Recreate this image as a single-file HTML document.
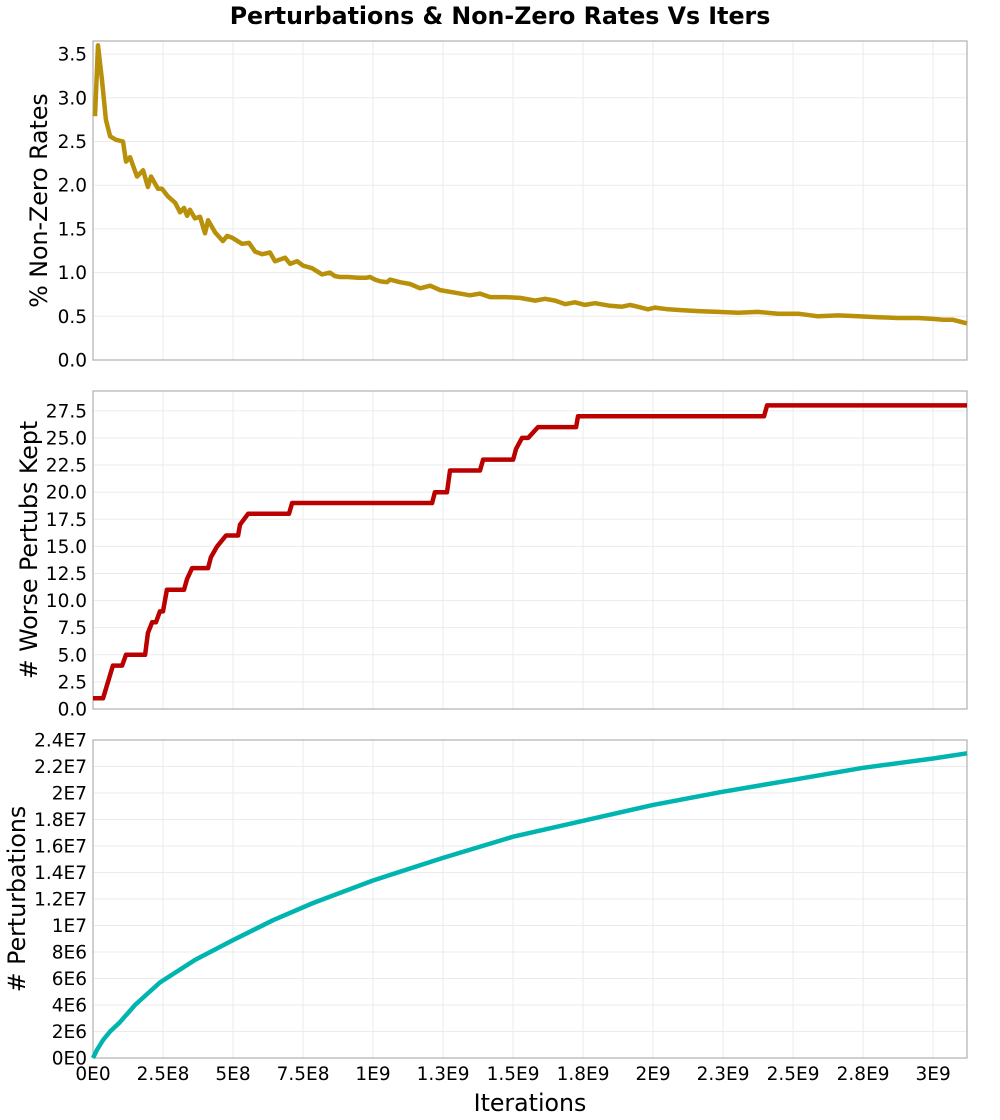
<!DOCTYPE html>
<html><head><meta charset="utf-8"><style>
body{margin:0;background:#fff;}
svg{display:block;font-family:"DejaVu Sans","Liberation Sans",sans-serif;}
</style></head><body>
<svg id="chart" width="1000" height="1120" viewBox="0 0 1000 1120" xmlns="http://www.w3.org/2000/svg">
<text x="500" y="24" text-anchor="middle" font-size="23.7" font-weight="bold">Perturbations &amp; Non-Zero Rates Vs Iters</text>
<text x="530" y="1111" text-anchor="middle" font-size="23.7">Iterations</text>
</svg>
<script>
// x values in units of 1E8 iterations
const rateX = [0.07,0.18,0.32,0.46,0.61,0.82,1.07,1.18,1.32,1.57,1.79,1.96,2.07,2.32,2.46,2.68,2.93,3.11,3.25,3.36,3.46,3.64,3.82,4.0,4.11,4.36,4.64,4.79,4.96,5.32,5.57,5.79,6.04,6.32,6.5,6.86,7.04,7.29,7.5,7.82,8.18,8.46,8.64,8.82,9.11,9.46,9.75,9.89,10.07,10.25,10.5,10.61,10.96,11.32,11.68,12.04,12.39,12.93,13.46,13.82,14.18,14.71,15.25,15.79,16.14,16.5,16.86,17.21,17.57,17.93,18.46,18.89,19.18,19.82,20.07,20.54,21.07,21.61,22.32,23.04,23.75,24.46,25.18,25.89,26.61,27.32,28.04,28.75,29.46,30.0,30.36,30.71,31.07,31.21];
const rateY = [2.79,3.6,3.2,2.75,2.56,2.52,2.5,2.27,2.32,2.1,2.17,1.98,2.1,1.96,1.96,1.87,1.8,1.69,1.74,1.65,1.72,1.62,1.64,1.45,1.6,1.46,1.36,1.42,1.4,1.33,1.34,1.24,1.21,1.23,1.13,1.17,1.1,1.13,1.08,1.05,0.98,1.0,0.96,0.95,0.95,0.94,0.94,0.95,0.92,0.9,0.89,0.92,0.89,0.87,0.82,0.85,0.8,0.77,0.74,0.76,0.72,0.72,0.71,0.68,0.7,0.68,0.64,0.66,0.63,0.65,0.62,0.61,0.63,0.58,0.6,0.58,0.57,0.56,0.55,0.54,0.55,0.53,0.53,0.5,0.51,0.5,0.49,0.48,0.48,0.47,0.46,0.46,0.43,0.42];
const keptX = [0,0.36,0.71,1.04,1.18,1.32,1.86,1.96,2.11,2.25,2.39,2.5,2.64,2.71,3.25,3.36,3.54,4.11,4.21,4.43,4.75,5.18,5.25,5.54,5.82,7.0,7.11,12.11,12.21,12.64,12.75,13.82,13.93,14.82,15.0,15.11,15.32,15.54,15.89,16.07,17.25,17.32,23.96,24.07,31.21];
const keptY = [1,1,4,4,5,5,5,7,8,8,9,9,11,11,11,12,13,13,14,15,16,16,17,18,18,18,19,19,20,20,22,22,23,23,23,24,25,25,26,26,26,27,27,28,28];
const pertX = [0,0.14,0.36,0.61,0.96,1.5,2.39,3.64,5.0,6.43,7.86,10.0,12.5,15.0,17.5,20.0,22.5,25.0,27.5,30.0,31.21];
const pertY = [0,0.6,1.36,2.0,2.7,4.0,5.7,7.4,8.9,10.4,11.7,13.4,15.1,16.7,17.9,19.1,20.1,21.0,21.9,22.6,23.0]; // E6
const xTicks = [0,2.5,5,7.5,10,12.5,15,17.5,20,22.5,25,27.5,30];
const xTickLabels = ["0E0","2.5E8","5E8","7.5E8","1E9","1.3E9","1.5E9","1.8E9","2E9","2.3E9","2.5E9","2.8E9","3E9"];
const rateTicks = [0,0.5,1,1.5,2,2.5,3,3.5];
const rateTickLabels = ["0.0","0.5","1.0","1.5","2.0","2.5","3.0","3.5"];
const keptTicks = [0,2.5,5,7.5,10,12.5,15,17.5,20,22.5,25,27.5];
const keptTickLabels = ["0.0","2.5","5.0","7.5","10.0","12.5","15.0","17.5","20.0","22.5","25.0","27.5"];
const pertTicks = [0,2,4,6,8,10,12,14,16,18,20,22,24];
const pertTickLabels = ["0E0","2E6","4E6","6E6","8E6","1E7","1.2E7","1.4E7","1.6E7","1.8E7","2E7","2.2E7","2.4E7"];

const NS="http://www.w3.org/2000/svg";
const svg=document.getElementById('chart');
const L=93,R=967,XMAX=31.21;
const xs=v=>L+(v/XMAX)*(R-L);
function mk(tag,attrs,parent){const e=document.createElementNS(NS,tag);for(const k in attrs)e.setAttribute(k,attrs[k]);(parent||svg).appendChild(e);return e;}
function panel(name,top,bot,ymax,ticks,labels,title,titleX,xs_,ys_,color,showX){
  const g=mk('g',{});
  
  
  const ys=v=>bot-(v/ymax)*(bot-top);
  xTicks.forEach(t=>{const l=mk('line',{x1:xs(t),x2:xs(t),y1:top,y2:bot,stroke:'#ebebeb','stroke-width':1},g);
    });
  ticks.forEach((t,i)=>{const l=mk('line',{x1:L,x2:R,y1:ys(t),y2:ys(t),stroke:'#ebebeb','stroke-width':1},g);
    
    const tx=mk('text',{x:L-6,y:ys(t)+6.5,'text-anchor':'end','font-size':18.5},g);tx.textContent=labels[i];
    });
  const fr=mk('rect',{x:L,y:top,width:R-L,height:bot-top,fill:'none',stroke:'#b0b0b0','stroke-width':1.2},g);
  
  const pts=xs_.map((x,i)=>xs(x).toFixed(1)+','+ys(ys_[i]).toFixed(1)).join(' ');
  const pl=mk('polyline',{points:pts,fill:'none',stroke:color,'stroke-width':4.5,'stroke-linejoin':'round'},g);
  
  const cy=(top+bot)/2;
  const at=mk('text',{x:0,y:0,'text-anchor':'middle','font-size':23.7,transform:`translate(${titleX},${cy}) rotate(-90)`},g);at.textContent=title;
  
  if(showX){xTicks.forEach((t,i)=>{const tx=mk('text',{x:xs(t),y:bot+22,'text-anchor':'middle','font-size':18.5},g);tx.textContent=xTickLabels[i];
    });}
}
panel('non-zero-rates',41,360,3.65,rateTicks,rateTickLabels,'% Non-Zero Rates',47,rateX,rateY,'#b8900a',false);
panel('worse-perturbs',391,709,29.33,keptTicks,keptTickLabels,'# Worse Pertubs Kept',37,keptX,keptY,'#bb0000',false);
panel('perturbations',740,1058,24.0,pertTicks,pertTickLabels,'# Perturbations',25,pertX,pertY,'#00b5b0',true);
</script>
</body></html>
